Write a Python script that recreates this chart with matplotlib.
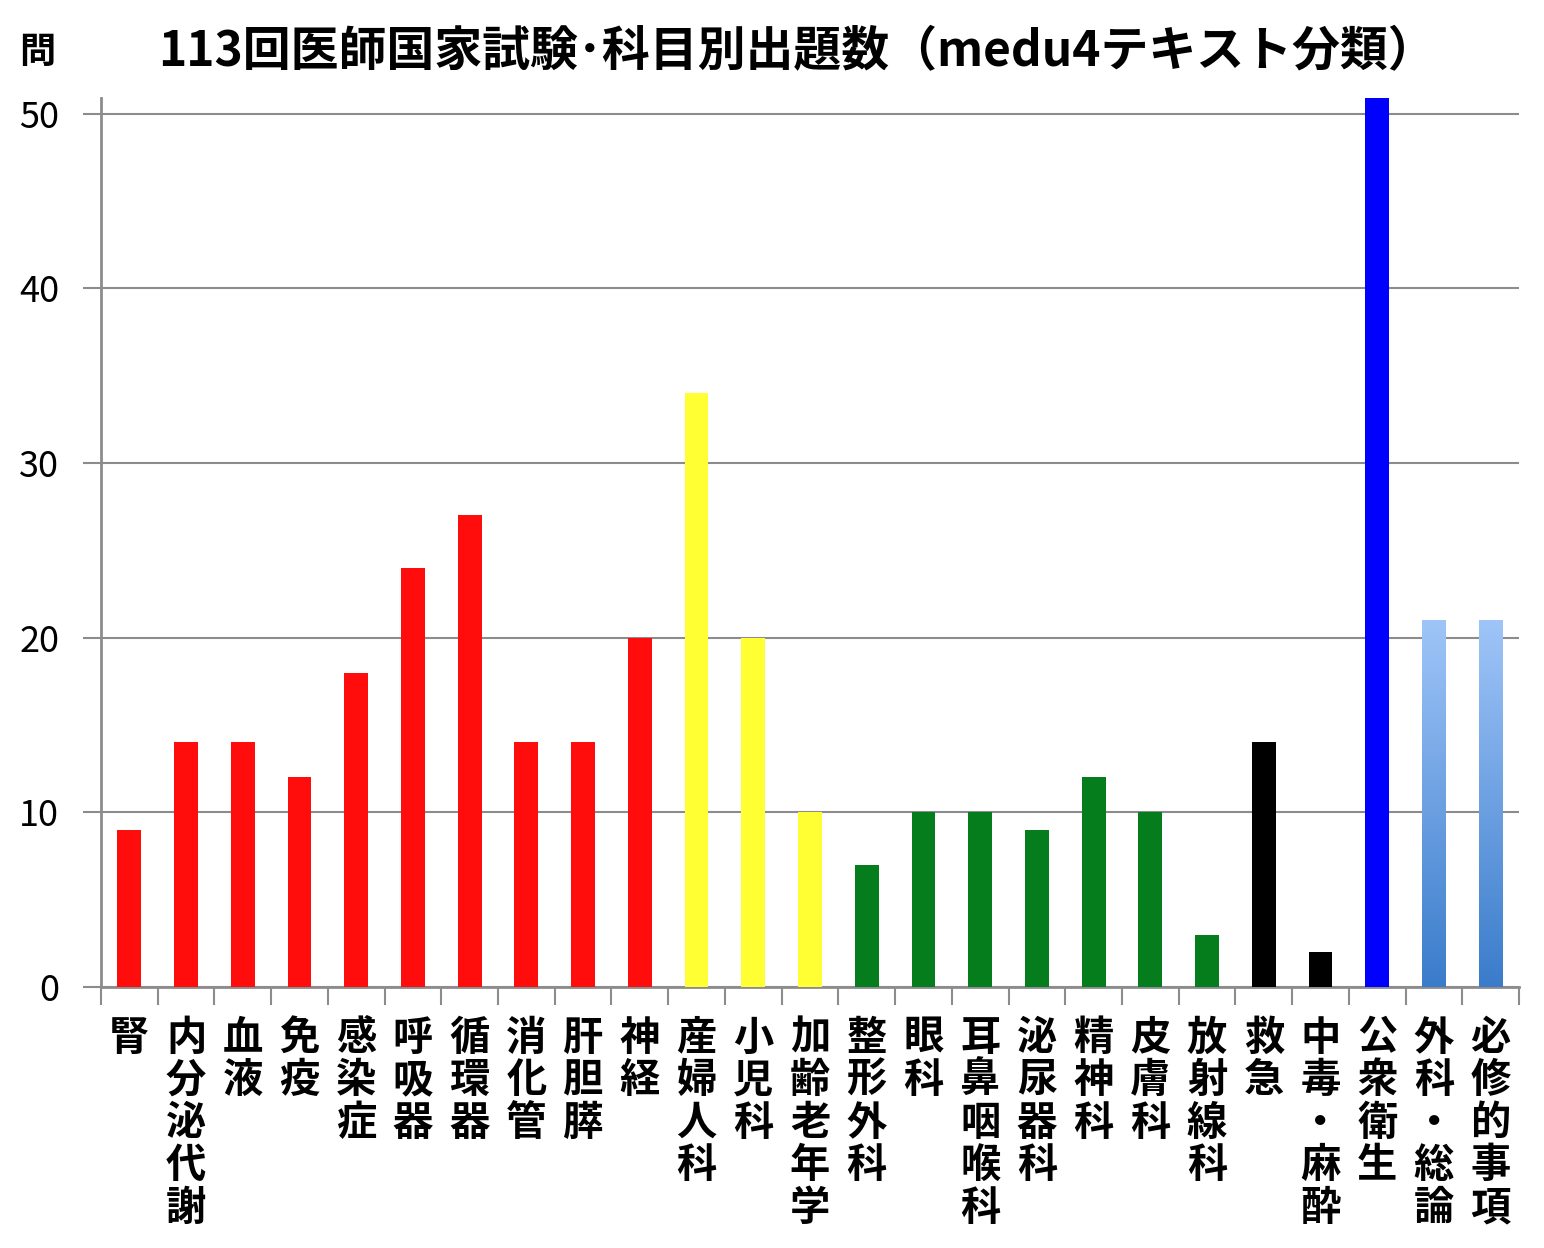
import numpy as np
import matplotlib.pyplot as plt
from matplotlib.colors import LinearSegmentedColormap

plt.rcParams['font.family'] = ['Noto Sans CJK JP', 'DejaVu Sans']

categories = ['腎', '内分泌代謝', '血液', '免疫', '感染症', '呼吸器', '循環器', '消化管',
              '肝胆膵', '神経', '産婦人科', '小児科', '加齢老年学', '整形外科', '眼科',
              '耳鼻咽喉科', '泌尿器科', '精神科', '皮膚科', '放射線科', '救急', '中毒・麻酔',
              '公衆衛生', '外科・総論', '必修的事項']
values = [9, 14, 14, 12, 18, 24, 27, 14, 14, 20, 34, 20, 10, 7, 10, 10, 9, 12, 10, 3,
          14, 2, 52, 21, 21]
groups = ['red'] * 10 + ['yellow'] * 3 + ['green'] * 7 + ['black'] * 2 + ['blue'] + ['grad'] * 2
yticks = [0, 10, 20, 30, 40, 50]

group_colors = {'red': '#ff0d0d', 'yellow': '#ffff33', 'green': '#067d1c',
                'black': '#000000', 'blue': '#0000ff', 'grad': '#6fa3e6'}
grad_cmap = LinearSegmentedColormap.from_list('g', ['#3a7ccb', '#9fc5f8'])

fig = plt.figure(figsize=(15.44, 12.48), dpi=100)
ax = fig.add_axes([101 / 1544, 1 - 987 / 1248, 1418 / 1544, 889 / 1248])

x = np.arange(len(categories))
width = 0.42
bars = ax.bar(x, values, width=width, color=[group_colors[g] for g in groups], zorder=3)

# gradient fill for the light blue bars
for b, g in zip(bars, groups):
    if g != 'grad':
        continue
    x0, y0 = b.get_x(), b.get_y()
    w, h = b.get_width(), b.get_height()
    grad = np.linspace(0, 1, 256).reshape(-1, 1)
    im = ax.imshow(grad, cmap=grad_cmap, origin='lower', aspect='auto',
                   extent=(x0, x0 + w, y0, y0 + h), zorder=4)
    im.set_clip_path(b)
ax.set_xlim(-0.5, len(categories) - 0.5)
ax.set_ylim(0, 50.9)

ax.set_yticks(yticks)
ax.set_yticklabels([str(v) for v in yticks], fontsize=26)
ax.yaxis.grid(True, color='#8c8c8c', linewidth=1.5, zorder=0)
ax.tick_params(axis='y', length=13, width=1.5, color='#8c8c8c', pad=17)

ax.set_xticks(x)
ax.set_xticklabels(['\n'.join(c) for c in categories], fontsize=29,
                   fontweight='bold', va='top', linespacing=1.05)
ax.tick_params(axis='x', which='major', length=0, pad=22)
ax.set_xticks(np.arange(len(categories) + 1) - 0.5, minor=True)
ax.tick_params(axis='x', which='minor', length=13, width=1.5, color='#8c8c8c')

for s in ['top', 'right']:
    ax.spines[s].set_visible(False)
for s in ['left', 'bottom']:
    ax.spines[s].set_color('#8c8c8c')
    ax.spines[s].set_linewidth(2)

fig.text(797 / 1544, 1 - 52 / 1248, '113回医師国家試験･科目別出題数（medu4テキスト分類）',
         fontsize=34.5, fontweight='bold', ha='center', va='center')
fig.text(37 / 1544, 1 - 52 / 1248, '問', fontsize=26, fontweight='bold',
         ha='center', va='center')

fig.savefig('out.png', dpi=100)
